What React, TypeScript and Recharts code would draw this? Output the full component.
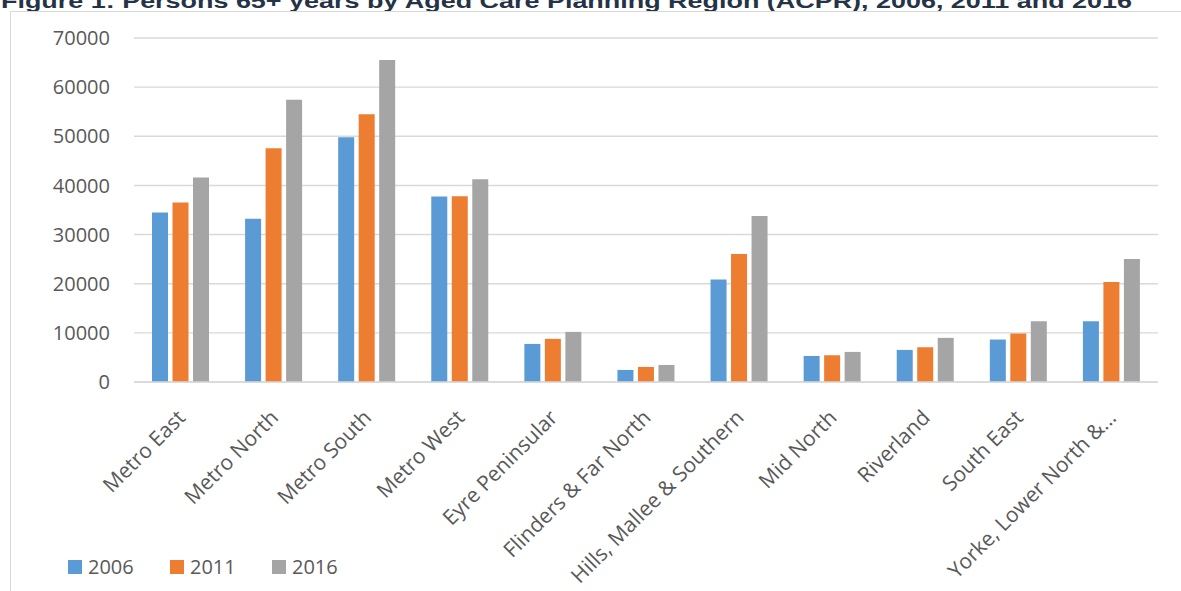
import React from 'react';
import { BarChart, Bar, XAxis, YAxis, CartesianGrid, Legend } from 'recharts';

// Aged Care Planning Regions (labels as shown, last one truncated like the source)
const regions = [
  'Metro East',
  'Metro North',
  'Metro South',
  'Metro West',
  'Eyre Peninsular',
  'Flinders & Far North',
  'Hills, Mallee & Southern',
  'Mid North',
  'Riverland',
  'South East',
  'Yorke, Lower North &...',
];

const persons2006 = [34490, 33200, 49800, 37750, 7750, 2450, 20880, 5300, 6530, 8640, 12380];
const persons2011 = [36530, 47550, 54490, 37800, 8780, 3060, 26060, 5440, 7070, 9860, 20340];
const persons2016 = [41630, 57410, 65510, 41250, 10200, 3470, 33800, 6120, 8980, 12380, 25040];

const yTicks = [0, 10000, 20000, 30000, 40000, 50000, 60000, 70000];

const seriesNames = ['2006', '2011', '2016'];
const seriesColors = ['#5B9BD5', '#ED7D31', '#A5A5A5'];

const TITLE = 'Figure 1: Persons 65+ years by Aged Care Planning Region (ACPR), 2006, 2011 and 2016';

const data = regions.map((region, i) => ({
  region,
  y2006: persons2006[i],
  y2011: persons2011[i],
  y2016: persons2016[i],
}));

const seriesKeys = ['y2006', 'y2011', 'y2016'];

const FONT = '"Open Sans", sans-serif';
const TEXT = '#595959';
const GRID = '#D9D9D9';

function RegionTick(props: any) {
  const { x, y, payload } = props;
  return (
    <g transform={`translate(${x + 6},${y + 37})`}>
      <text
        transform="rotate(-45)"
        textAnchor="end"
        fontFamily={FONT}
        fontSize={21}
        fill={TEXT}
      >
        {payload.value}
      </text>
    </g>
  );
}

function LegendContent(props: any) {
  const items = props.payload || [];
  return (
    <div style={{ display: 'flex', fontFamily: FONT, fontSize: 20, color: TEXT }}>
      {items.map((entry: any) => (
        <div
          key={entry.value}
          style={{ display: 'flex', alignItems: 'center', width: 102 }}
        >
          <span
            style={{
              width: 14,
              height: 14,
              background: entry.color,
              display: 'inline-block',
              marginRight: 6,
            }}
          />
          <span>{entry.value}</span>
        </div>
      ))}
    </div>
  );
}

export default function App() {
  return (
    <div style={styles.page}>
      <svg style={styles.titleSvg} width={1181} height={20}>
        <text
          x={1}
          y={8}
          textLength={1131}
          lengthAdjust="spacingAndGlyphs"
          fontFamily='"Liberation Sans", Arial, sans-serif'
          fontWeight={700}
          fontSize={21}
          fill="#253346"
        >
          {TITLE}
        </text>
      </svg>
      <div style={styles.frame} />
      <div style={styles.chart}>
        <BarChart
          width={1181}
          height={591}
          data={data}
          margin={{ top: 38, right: 23, left: 0, bottom: 0 }}
          barSize={16}
          barGap={4.5}
        >
          <CartesianGrid vertical={false} stroke={GRID} strokeWidth={1.4} />
          <XAxis
            dataKey="region"
            interval={0}
            height={209}
            tickLine={false}
            tickSize={0}
            tickMargin={0}
            axisLine={{ stroke: GRID, strokeWidth: 1.4 }}
            tick={<RegionTick />}
          />
          <YAxis
            width={134}
            domain={[0, 70000]}
            ticks={yTicks}
            interval={0}
            axisLine={false}
            tickLine={false}
            tickSize={0}
            tickMargin={24}
            tick={{ fill: TEXT, fontSize: 20, fontFamily: FONT }}
          />
          <Legend
            verticalAlign="middle"
            layout="horizontal"
            align="center"
            wrapperStyle={{ top: 553, left: 68, width: 320 }}
            content={<LegendContent />}
          />
          {seriesKeys.map((key, i) => (
            <Bar
              key={key}
              dataKey={key}
              name={seriesNames[i]}
              fill={seriesColors[i]}
              isAnimationActive={false}
            />
          ))}
        </BarChart>
      </div>
    </div>
  );
}

const styles: { [key: string]: React.CSSProperties } = {
  page: {
    position: 'absolute',
    top: 0,
    left: 0,
    width: 1181,
    height: 591,
    overflow: 'hidden',
    background: '#ffffff',
  },
  titleSvg: {
    position: 'absolute',
    top: 0,
    left: 0,
  },
  frame: {
    position: 'absolute',
    top: 11,
    left: 10,
    width: 1200,
    height: 600,
    borderTop: `1px solid ${GRID}`,
    borderLeft: `1px solid ${GRID}`,
  },
  chart: {
    position: 'absolute',
    top: 0,
    left: 0,
  },
};
